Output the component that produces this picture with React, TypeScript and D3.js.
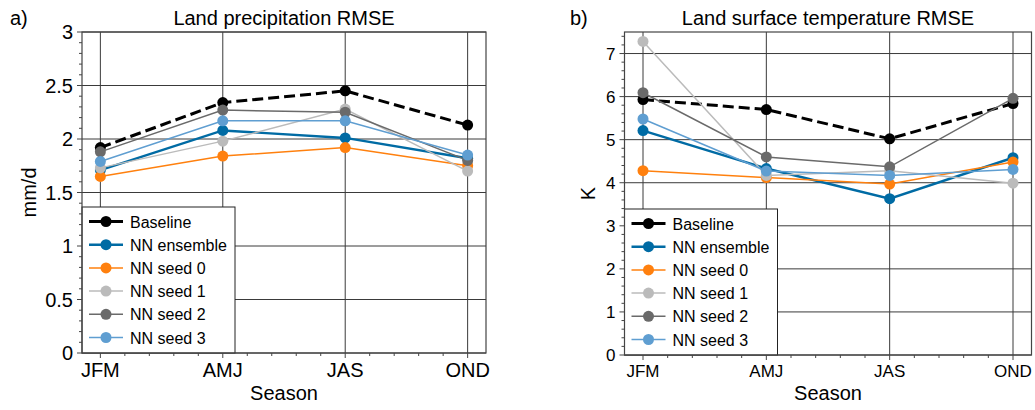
import React from "react";
import * as d3 from "d3";

const seasons = ["JFM", "AMJ", "JAS", "OND"];

const seriesNames = ["Baseline", "NN ensemble", "NN seed 0", "NN seed 1", "NN seed 2", "NN seed 3"];
const seriesColors = ["#000000", "#006BA4", "#FF800E", "#BBBBBB", "#6A6A6A", "#5F9ED1"];
const seriesWidths = [3, 2.4, 1.5, 1.5, 1.5, 1.5];

const precipBaseline = [1.92, 2.34, 2.45, 2.13];
const precipEnsemble = [1.71, 2.08, 2.01, 1.82];
const precipSeed0 = [1.65, 1.84, 1.92, 1.75];
const precipSeed1 = [1.73, 1.98, 2.28, 1.70];
const precipSeed2 = [1.88, 2.27, 2.25, 1.80];
const precipSeed3 = [1.79, 2.17, 2.17, 1.85];

const tempBaseline = [5.93, 5.70, 5.02, 5.84];
const tempEnsemble = [5.21, 4.33, 3.63, 4.58];
const tempSeed0 = [4.28, 4.12, 3.97, 4.48];
const tempSeed1 = [7.28, 4.17, 4.28, 3.99];
const tempSeed2 = [6.09, 4.60, 4.37, 5.96];
const tempSeed3 = [5.48, 4.27, 4.17, 4.31];

const precipTicks = [0, 0.5, 1, 1.5, 2, 2.5, 3];
const tempTicks = [0, 1, 2, 3, 4, 5, 6, 7];

const FONT = "'Liberation Sans', Arial, Helvetica, sans-serif";

type PanelProps = {
  label: string;
  title: string;
  ylabel: string;
  left: number;
  right: number;
  top: number;
  bottom: number;
  yMax: number;
  yTicks: number[];
  minorStep: number;
  tickFont: number;
  data: number[][];
  ylabelX: number;
  labelX: number;
  xTickDy: number;
};

function Panel(p: PanelProps) {
  const x = d3.scaleLinear().domain([-0.15, 3.15]).range([p.left, p.right]);
  const y = d3.scaleLinear().domain([0, p.yMax]).range([p.bottom, p.top]);
  const line = d3
    .line<number>()
    .x((_, i) => x(i))
    .y((d) => y(d));

  const yMinor = d3.range(0, p.yMax + 1e-9, p.minorStep).filter(
    (v) => !p.yTicks.some((t) => Math.abs(t - v) < 1e-6)
  );
  const xMinor: number[] = [];
  for (let i = -0.2; i <= 3.2 + 1e-9; i += 0.2) {
    const v = Math.round(i * 10) / 10;
    if (v < -0.15 || v > 3.15) continue;
    if (Math.abs(v - Math.round(v)) < 1e-6) continue;
    xMinor.push(v);
  }

  const gridColor = "#3a3a3a";
  const frameColor = "#444";

  const legLeft = p.left;
  const legTop = p.bottom - 146;
  const legW = 153;
  const rowH = 23.2;

  return (
    <g>
      <text x={p.labelX} y={25} fontSize={20} fontFamily={FONT} fill="#000">
        {p.label}
      </text>
      <text
        x={(p.left + p.right) / 2}
        y={25}
        fontSize={20}
        fontFamily={FONT}
        textAnchor="middle"
        fill="#000"
      >
        {p.title}
      </text>
      {p.yTicks.map((t) => (
        <line
          key={"gy" + t}
          x1={p.left}
          x2={p.right}
          y1={y(t)}
          y2={y(t)}
          stroke={gridColor}
          strokeWidth={1}
        />
      ))}
      {seasons.map((s, i) => (
        <line
          key={"gx" + s}
          x1={x(i)}
          x2={x(i)}
          y1={p.top}
          y2={p.bottom}
          stroke={gridColor}
          strokeWidth={1}
        />
      ))}
      {p.data.map((vals, k) => (
        <g key={"s" + k}>
          <path
            d={line(vals) || ""}
            fill="none"
            stroke={seriesColors[k]}
            strokeWidth={seriesWidths[k]}
            strokeDasharray={k === 0 ? "11,5" : undefined}
          />
          {vals.map((v, i) => (
            <circle key={i} cx={x(i)} cy={y(v)} r={5.5} fill={seriesColors[k]} />
          ))}
        </g>
      ))}
      <rect
        x={legLeft}
        y={legTop}
        width={legW}
        height={p.bottom - legTop}
        fill="#fff"
        stroke="#222"
        strokeWidth={1}
      />
      {seriesNames.map((n, k) => {
        const cy = legTop + 14.5 + k * rowH;
        return (
          <g key={"l" + n}>
            <line
              x1={legLeft + 7}
              x2={legLeft + 41}
              y1={cy}
              y2={cy}
              stroke={seriesColors[k]}
              strokeWidth={seriesWidths[k]}
            />
            <circle cx={legLeft + 24} cy={cy} r={5.5} fill={seriesColors[k]} />
            <text
              x={legLeft + 48}
              y={cy + 6}
              fontSize={16}
              fontFamily={FONT}
              fill="#000"
            >
              {n}
            </text>
          </g>
        );
      })}
      <rect
        x={p.left}
        y={p.top}
        width={p.right - p.left}
        height={p.bottom - p.top}
        fill="none"
        stroke={frameColor}
        strokeWidth={1.2}
      />
      {p.yTicks.map((t) => (
        <g key={"yt" + t}>
          <line x1={p.left - 5} x2={p.left} y1={y(t)} y2={y(t)} stroke={frameColor} />
          <text
            x={p.left - 9}
            y={y(t) + p.tickFont * 0.36}
            fontSize={p.tickFont}
            fontFamily={FONT}
            textAnchor="end"
            fill="#000"
          >
            {String(t)}
          </text>
        </g>
      ))}
      {yMinor.map((t) => (
        <line key={"ym" + t} x1={p.left - 3} x2={p.left} y1={y(t)} y2={y(t)} stroke={frameColor} />
      ))}
      {seasons.map((s, i) => (
        <g key={"xt" + s}>
          <line x1={x(i)} x2={x(i)} y1={p.bottom} y2={p.bottom + 5} stroke={frameColor} />
          <text
            x={x(i)}
            y={p.bottom + p.xTickDy}
            fontSize={p.tickFont}
            fontFamily={FONT}
            textAnchor="middle"
            fill="#000"
          >
            {s}
          </text>
        </g>
      ))}
      {xMinor.map((v) => (
        <line key={"xm" + v} x1={x(v)} x2={x(v)} y1={p.bottom} y2={p.bottom + 3} stroke={frameColor} />
      ))}
      <text
        x={(p.left + p.right) / 2}
        y={400}
        fontSize={20}
        fontFamily={FONT}
        textAnchor="middle"
        fill="#000"
      >
        Season
      </text>
      <text
        transform={`translate(${p.ylabelX},${(p.top + p.bottom) / 2}) rotate(-90)`}
        fontSize={20}
        fontFamily={FONT}
        textAnchor="middle"
        fill="#000"
      >
        {p.ylabel}
      </text>
    </g>
  );
}

export default function App() {
  return (
    <svg
      width={1035}
      height={410}
      style={{ position: "absolute", left: 0, top: 0, display: "block", background: "#fff" }}
    >
      <rect x={0} y={0} width={1035} height={410} fill="#fff" />
      <Panel
        label="a)"
        title="Land precipitation RMSE"
        ylabel="mm/d"
        left={82}
        right={486}
        top={32}
        bottom={353}
        yMax={3}
        yTicks={precipTicks}
        minorStep={0.1}
        tickFont={20}
        data={[precipBaseline, precipEnsemble, precipSeed0, precipSeed1, precipSeed2, precipSeed3]}
        ylabelX={36}
        labelX={10}
        xTickDy={24}
      />
      <Panel
        label="b)"
        title="Land surface temperature RMSE"
        ylabel="K"
        left={624.5}
        right={1031.5}
        top={32}
        bottom={355}
        yMax={7.5}
        yTicks={tempTicks}
        minorStep={0.2}
        tickFont={17}
        data={[tempBaseline, tempEnsemble, tempSeed0, tempSeed1, tempSeed2, tempSeed3]}
        ylabelX={595}
        labelX={570}
        xTickDy={22}
      />
    </svg>
  );
}
